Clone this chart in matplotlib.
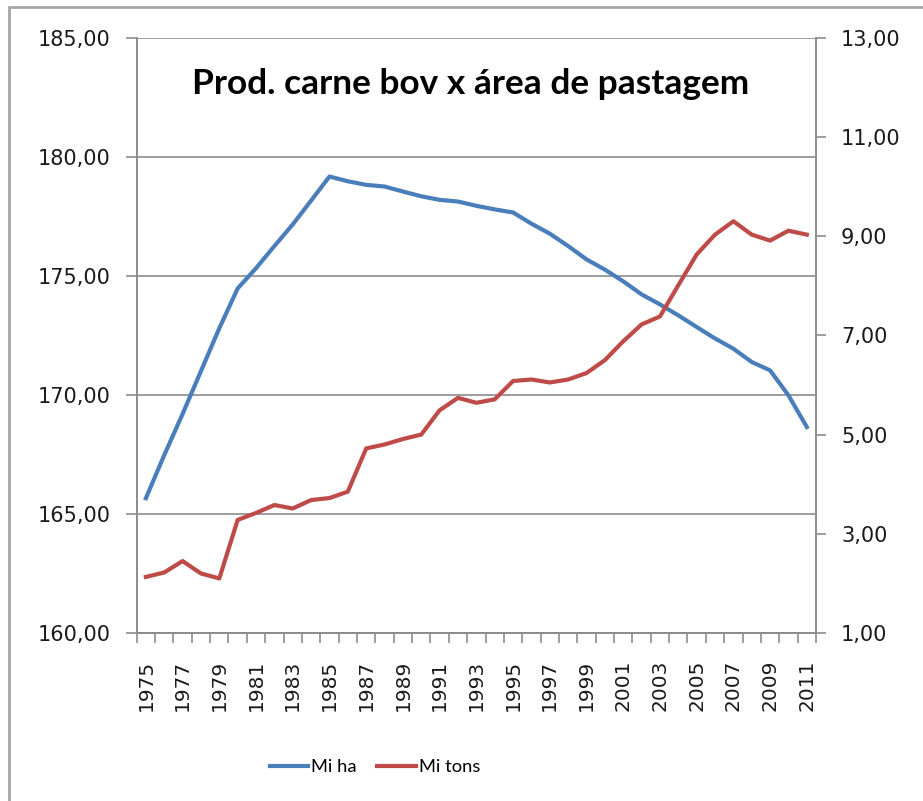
import matplotlib
matplotlib.use("Agg")
import matplotlib.pyplot as plt
from matplotlib.patches import Rectangle
from matplotlib.lines import Line2D
import numpy as np

years = list(range(1975, 2012))
mi_ha = [165.66, 167.47, 169.2, 171.0, 172.8, 174.47, 175.32, 176.25, 177.16, 178.16,
         179.17, 178.97, 178.82, 178.75, 178.54, 178.34, 178.19, 178.12, 177.94, 177.79,
         177.66, 177.19, 176.77, 176.25, 175.69, 175.26, 174.77, 174.22, 173.8, 173.34,
         172.85, 172.37, 171.94, 171.38, 171.03, 169.98, 168.65]
mi_tons = [2.13, 2.22, 2.45, 2.20, 2.10, 3.28, 3.42, 3.58, 3.51, 3.68,
           3.72, 3.85, 4.72, 4.80, 4.91, 5.00, 5.49, 5.74, 5.64, 5.71,
           6.08, 6.11, 6.05, 6.11, 6.24, 6.50, 6.88, 7.22, 7.38, 8.01,
           8.63, 9.03, 9.30, 9.03, 8.91, 9.11, 9.03]
left_ticks = [160, 165, 170, 175, 180, 185]
right_ticks = [1, 3, 5, 7, 9, 11, 13]
title = "Prod. carne bov x área de pastagem"
labels = ["Mi ha", "Mi tons"]

blue = "#4a7ebb"
red = "#be4b48"
grid_c = "#8c8c8c"
txt_c = "#1a1a1a"

W, H = 923, 801
fig = plt.figure(figsize=(W / 100, H / 100), dpi=100)
ax = fig.add_axes([136.7 / W, 1 - 633 / H, (816 - 136.7) / W, (633 - 37.7) / H])
ax2 = ax.twinx()

x = np.arange(len(years))
ax.plot(x, mi_ha, color=blue, lw=3.0, solid_joinstyle="round", zorder=3)
ax2.plot(x, mi_tons, color=red, lw=3.0, solid_joinstyle="round", zorder=3)

ax.set_xlim(-0.5, len(years) - 0.5)
ax.set_ylim(160, 185)
ax2.set_ylim(1, 13)

ax.set_yticks(left_ticks)
ax.set_yticklabels([f"{v:.2f}".replace(".", ",") for v in left_ticks])
ax2.set_yticks(right_ticks)
ax2.set_yticklabels([f"{v:.2f}".replace(".", ",") for v in right_ticks])

ax.yaxis.grid(True, color=grid_c, lw=1.2)
ax.set_axisbelow(True)

ax.set_xticks(x[::2])
ax.set_xticklabels([str(y) for y in years[::2]], rotation=90)
ax.set_xticks(np.arange(-0.5, len(years)), minor=True)
ax.tick_params(axis="x", which="major", length=0, pad=19, labelsize=14.5, labelcolor=txt_c)
ax.tick_params(axis="x", which="minor", length=7, width=1.2, color=grid_c, direction="out")
ax.tick_params(axis="y", length=8, width=1.2, color=grid_c, pad=11, labelsize=15, labelcolor=txt_c)
ax2.tick_params(axis="y", length=7, width=1.2, color=grid_c, pad=11, labelsize=15, labelcolor=txt_c)

for a in (ax, ax2):
    a.spines["top"].set_visible(False)
    for s in ("left", "right", "bottom"):
        a.spines[s].set_color(grid_c)
        a.spines[s].set_linewidth(1.2)

fig.text(470.5 / W, 1 - 84 / H, title, ha="center", va="center",
         fontsize=25.4, fontweight="bold", family="Lato", color="black")

handles = [Line2D([], [], color=blue, lw=3.0), Line2D([], [], color=red, lw=3.0)]
leg = fig.legend(handles, labels, loc="center", bbox_to_anchor=(375 / W, 1 - 767 / H),
                 ncol=2, frameon=False, handlelength=2.1, handletextpad=0.18,
                 columnspacing=1.1, prop={"family": "Lato", "size": 13.2})

fig.add_artist(Rectangle((8.5 / W, -0.1), 1.2, 1.1 - 7.5 / H, transform=fig.transFigure,
                         fill=False, edgecolor="#a6a6a6", lw=2.0, clip_on=False))

fig.savefig("out.png", dpi=100)
